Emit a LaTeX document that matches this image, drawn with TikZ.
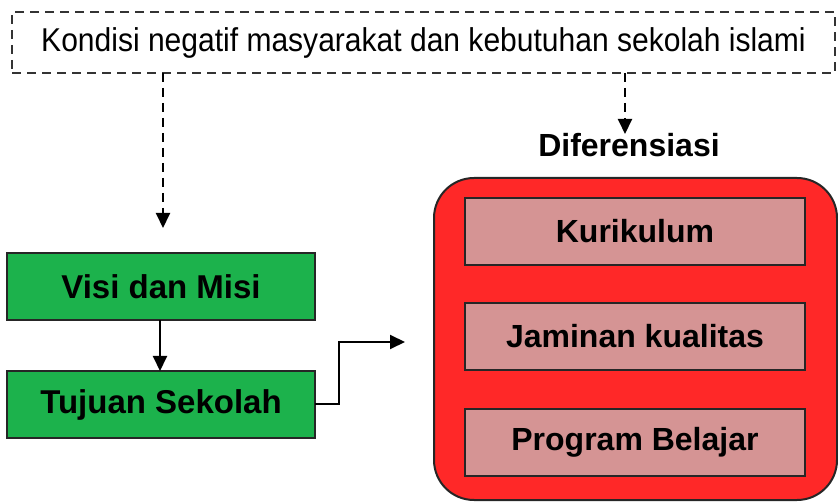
\documentclass[tikz,border=0pt]{standalone}
\usepackage{fontspec}
\setmainfont{Liberation Sans}
\newfontfamily\narrowfont[FakeStretch=0.91]{Liberation Sans}
\usetikzlibrary{arrows.meta}
\definecolor{boxgreen}{RGB}{28,178,76}
\definecolor{boxred}{RGB}{255,40,40}
\definecolor{boxpink}{RGB}{213,148,148}
\begin{document}
\begin{tikzpicture}[x=1pt,y=-1pt,
  every node/.style={inner sep=0pt, outer sep=0pt},
  topbox/.style={draw=black!80, line width=1.6pt, dash pattern=on 9pt off 6pt, minimum width=823pt, minimum height=61pt, font=\narrowfont\fontsize{33}{36}\selectfont},
  greenbox/.style={draw=black!85, line width=2pt, fill=boxgreen, minimum width=308pt, minimum height=67pt, font=\bfseries\fontsize{33}{36}\selectfont},
  redbox/.style={draw=black!85, line width=2pt, fill=boxred, rounded corners=40pt, minimum width=403pt, minimum height=322pt},
  pinkbox/.style={draw=black!85, line width=2pt, fill=boxpink, minimum width=340pt, minimum height=67pt, font=\bfseries\fontsize{32}{36}\selectfont},
  title/.style={font=\bfseries\fontsize{32}{36}\selectfont},
  conn/.style={draw=black, line width=2pt, -{Triangle[length=15pt,width=14pt]}},
  dashconn/.style={conn, dash pattern=on 9pt off 6pt}
]
\useasboundingbox (0,0) rectangle (838,502);
\node[topbox] (top) at (423.5,42.5) {Kondisi negatif masyarakat dan kebutuhan sekolah islami};
\node[greenbox] (visi) at (161,287) {Visi dan Misi};
\node[greenbox] (tujuan) at (161,404.5) {Tujuan Sekolah};
\node[redbox] (outer) at (635.5,339) {};
\node[pinkbox] (kur) at (635,231.5) {Kurikulum};
\node[pinkbox] (jam) at (635,336.5) {Jaminan kualitas};
\node[pinkbox] (prog) at (635,442.5) {Program Belajar};
\node[title, anchor=base] (dif) at (629,157) {Diferensiasi};
\coordinate (c1) at (163,228);
\coordinate (c2) at (625,134);
\coordinate (c3) at (405,342);
\draw[dashconn] (top.south -| c1) -- (c1);
\draw[dashconn] (top.south -| c2) -- (c2);
\draw[conn] (visi.south -| 160,0) -- (tujuan.north -| 160,0);
\draw[conn] (tujuan.east) -- ++(24,0) |- (c3);
\end{tikzpicture}
\end{document}
